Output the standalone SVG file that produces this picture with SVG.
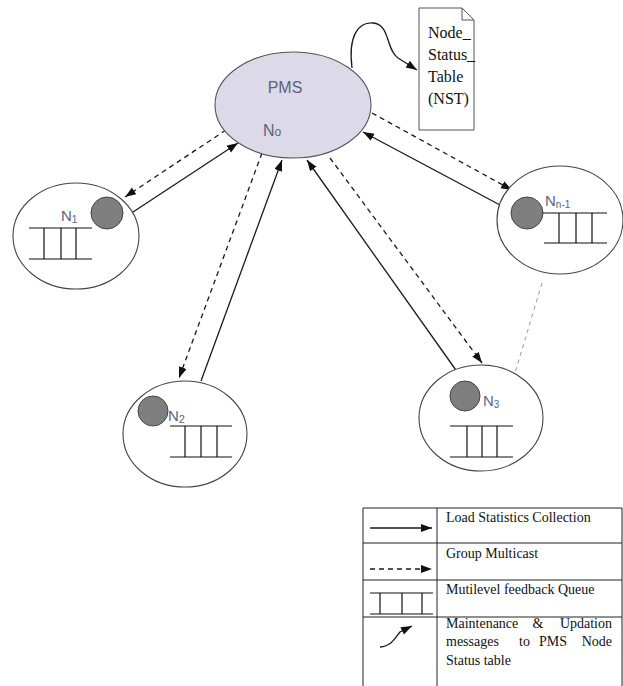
<svg xmlns="http://www.w3.org/2000/svg" width="623" height="686" viewBox="0 0 623 686">
<defs>
<style>
.node{fill:#fff;stroke:#444;stroke-width:1.1}
.pms{fill:#dcd9e9;stroke:#555;stroke-width:1.1}
.ball{fill:#7f7f7f;stroke:#444;stroke-width:1}
.q{stroke:#111;stroke-width:1.2;fill:none}
.lbl{font-family:"Liberation Sans","DejaVu Sans",sans-serif;fill:#5a6478}
.sol{stroke:#1a1a1a;stroke-width:1.3;fill:none;marker-end:url(#ah)}
.dsh{stroke:#1a1a1a;stroke-width:1.3;fill:none;stroke-dasharray:5,4;marker-end:url(#ah)}
.tm{font-family:"Liberation Serif","Times New Roman",serif;fill:#111}
.lg{font-size:14px}
.grid{stroke:#222;stroke-width:1;fill:none}
</style>
<marker id="ah" markerUnits="userSpaceOnUse" markerWidth="12" markerHeight="10" refX="11" refY="4" orient="auto">
<path d="M0,0 L11,4 L0,8 Z" fill="#111"/>
</marker>
</defs>
<rect width="623" height="686" fill="#fff"/>

<g id="connectors">
<line class="sol" x1="133" y1="212" x2="238" y2="143"/>
<line class="dsh" x1="226" y1="130" x2="125" y2="197"/>
<line class="dsh" x1="262" y1="153" x2="179" y2="378"/>
<line class="sol" x1="201" y1="381" x2="282" y2="160"/>
<line class="sol" x1="458" y1="373" x2="307" y2="160"/>
<line class="dsh" x1="330" y1="158" x2="482" y2="363"/>
<line class="dsh" x1="372" y1="113" x2="512" y2="190"/>
<line class="sol" x1="500" y1="205" x2="363" y2="132"/>
<path class="sol" d="M352,68 C348,36 358,22 373,23 C390,24 386,50 398,58 L417,70"/>
<line x1="542" y1="283" x2="512" y2="383" stroke="#999" stroke-width="1" stroke-dasharray="4,4"/>
</g>

<g id="pms">
<ellipse class="pms" cx="293" cy="105" rx="78" ry="53"/>
<text class="lbl" x="285" y="93" font-size="16" text-anchor="middle" fill="#4f5470">PMS</text>
<text class="lbl" x="263" y="136" font-size="16">N<tspan font-size="12">o</tspan></text>
</g>

<g id="nst">
<path d="M419,8 L462,8 L474,20 L474,130 L419,130 Z" fill="#fff" stroke="#555" stroke-width="1"/>
<path d="M462,8 L462,20 L474,20" fill="none" stroke="#555" stroke-width="1"/>
<text class="tm" font-size="16"><tspan x="428" y="38">Node_</tspan><tspan x="428" y="60">Status_</tspan><tspan x="428" y="82">Table</tspan><tspan x="428" y="104">(NST)</tspan></text>
</g>

<g id="n1">
<ellipse class="node" cx="76" cy="236" rx="63" ry="53"/>
<circle class="ball" cx="107" cy="213" r="16"/>
<text class="lbl" x="61" y="221" font-size="15" fill="#7f8eaa">N<tspan font-size="10" dy="2">1</tspan></text>
<path class="q" d="M29,228 H92 M29,259 H92 M44,228 V259 M61,228 V259 M76,228 V259"/>
</g>

<g id="n2">
<ellipse class="node" cx="185" cy="434" rx="62" ry="53"/>
<circle class="ball" cx="153" cy="411" r="15"/>
<text class="lbl" x="168" y="421" font-size="15">N<tspan font-size="11" dy="2">2</tspan></text>
<path class="q" d="M170,426 H232 M170,457 H232 M185,426 V457 M201,426 V457 M217,426 V457"/>
</g>

<g id="n3">
<ellipse class="node" cx="481" cy="418" rx="62" ry="53"/>
<circle class="ball" cx="465" cy="396" r="15"/>
<text class="lbl" x="483" y="406" font-size="15">N<tspan font-size="10" dy="2">3</tspan></text>
<path class="q" d="M450,426 H513 M450,457 H513 M467,426 V457 M482,426 V457 M497,426 V457"/>
</g>

<g id="nn1">
<ellipse class="node" cx="560" cy="220" rx="63" ry="54"/>
<circle class="ball" cx="527" cy="213" r="16"/>
<text class="lbl" x="545" y="206" font-size="15">N<tspan font-size="10" dy="2">n-1</tspan></text>
<path class="q" d="M543,213 H607 M544,243 H607 M559,213 V243 M576,213 V243 M592,213 V243"/>
</g>

<g id="legend">
<path class="grid" d="M363,508 H622 M363,543 H622 M363,580 H622 M363,617 H622 M363,508 V686 M622,508 V686 M437,508 V686"/>
<line class="sol" x1="370" y1="528" x2="432" y2="528"/>
<line class="dsh" x1="370" y1="569" x2="432" y2="569"/>
<path class="q" d="M370,593 H433 M370,614 H433 M380,593 V614 M402,593 V614 M422,593 V614"/>
<path class="sol" d="M380,647 C392,646 395,638 400,632 L412,626"/>
<text class="tm lg" x="446" y="522">Load Statistics Collection</text>
<text class="tm lg" x="446" y="558">Group Multicast</text>
<text class="tm lg" x="446" y="594">Mutilevel feedback Queue</text>
<text class="tm lg" x="446" y="628">Maintenance</text>
<text class="tm lg" x="538" y="628" text-anchor="middle">&amp;</text>
<text class="tm lg" x="612" y="628" text-anchor="end">Updation</text>
<text class="tm lg" x="446" y="646">messages</text>
<text class="tm lg" x="519" y="646">to</text>
<text class="tm lg" x="539" y="646">PMS</text>
<text class="tm lg" x="612" y="646" text-anchor="end">Node</text>
<text class="tm lg" x="446" y="665">Status table</text>
</g>
</svg>
